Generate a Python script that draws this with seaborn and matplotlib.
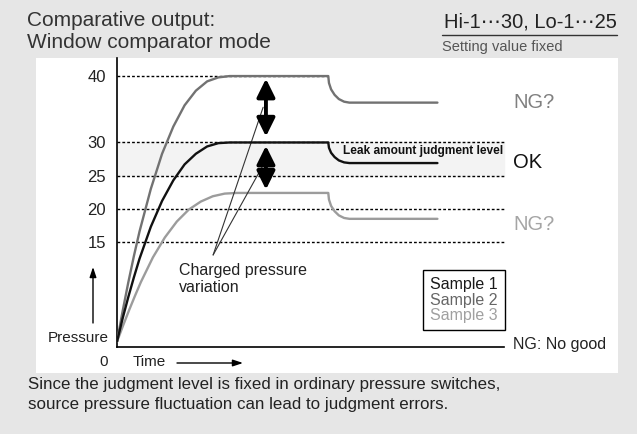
import matplotlib
matplotlib.use("Agg")
import matplotlib.pyplot as plt
import seaborn as sns
from matplotlib.patches import Rectangle
from matplotlib.lines import Line2D

# Window comparator: three samples charged to different pressures
rise_t = [0, 1.6, 3.2, 4.8, 6.4, 9.6, 12.8, 16, 19.2, 22.4, 25.6, 28.8, 32]
rise_t3 = [0, 1.7, 3.4, 5.1, 6.8, 10.2, 13.6, 17, 20.4, 23.8, 27.2, 30.6, 34]
drop_t = [60, 60.2, 60.8, 61.8, 63, 64.5, 66, 91]

s1_rise = [0, 3.5, 6.7, 9.7, 12.5, 17.3, 21.2, 24.3, 26.7, 28.3, 29.4, 29.9, 30]
s1_drop = [30, 29.2, 28.45, 27.8, 27.3, 27.0, 26.9, 26.9]
s2_rise = [0, 4.6, 8.9, 12.9, 16.6, 23.0, 28.3, 32.4, 35.6, 37.8, 39.2, 39.8, 40]
s2_drop = [40, 38.96, 38.0, 37.17, 36.54, 36.14, 36.0, 36.0]
s3_rise = [0, 2.4, 4.7, 6.9, 9.0, 12.7, 15.7, 18.1, 19.9, 21.1, 21.9, 22.3, 22.4]
s3_drop = [22.4, 21.4, 20.45, 19.64, 19.02, 18.63, 18.5, 18.5]

samples = ["Sample 1", "Sample 2", "Sample 3"]
line_colors = ["#111111", "#727272", "#9c9c9c"]
text_colors = ["#1a1a1a", "#666666", "#a0a0a0"]

levels = [30, 25, 20, 15]
top_level = 40
yticks = [15, 20, 25, 30, 40]
hi, lo = 30, 25
arrow_t = 42.3

W, H = 637, 434


def px(x, y):
    return (x / W, 1 - y / H)


sns.set_style("white")
plt.rcParams["font.family"] = ["Liberation Sans", "DejaVu Sans"]

fig = plt.figure(figsize=(W / 100, H / 100), dpi=100, facecolor="#e6e6e6")
fig.add_artist(Rectangle(px(36, 373), 582 / W, 315 / H, transform=fig.transFigure,
                         facecolor="white", edgecolor="none", zorder=0))

ax = fig.add_axes([117 / W, (H - 347) / H, 500 / W, 289 / H])
ax.set_facecolor("none")

# curves
sns.lineplot(x=rise_t + drop_t, y=s1_rise + s1_drop, color=line_colors[0], lw=1.7,
             sort=False, estimator=None, label=samples[0], ax=ax, zorder=4)
sns.lineplot(x=rise_t + drop_t, y=s2_rise + s2_drop, color=line_colors[1], lw=1.7,
             sort=False, estimator=None, label=samples[1], ax=ax, zorder=3)
sns.lineplot(x=rise_t3 + drop_t, y=s3_rise + s3_drop, color=line_colors[2], lw=1.7,
             sort=False, estimator=None, label=samples[2], ax=ax, zorder=3)

# judgment band and dotted levels
ax.axhspan(lo, hi, xmin=0, xmax=110 / 142, color="#f3f3f3", zorder=0)
ax.hlines(levels, 0, 110, colors="black", linestyles=(0, (2, 1.5)), lw=1, zorder=1)
ax.hlines(top_level, 0, 60, colors="black", linestyles=(0, (2, 1.5)), lw=1, zorder=1)

# variation arrows
arr = dict(arrowstyle="<|-|>,head_length=0.85,head_width=0.42", lw=2.8, color="black",
           shrinkA=0, shrinkB=0, mutation_scale=13)
ax.annotate("", xy=(arrow_t, 39.6), xytext=(arrow_t, 30.9), arrowprops=arr, zorder=6)
ax.annotate("", xy=(arrow_t, 29.5), xytext=(arrow_t, 22.9), arrowprops=arr, zorder=6)

# leader lines for the note
lead = dict(arrowstyle="-", lw=0.8, color="#333333", shrinkA=0, shrinkB=0)
ax.annotate("", xy=(41.5, 35.3), xytext=(27.3, 13.06), arrowprops=lead)
ax.annotate("", xy=(41.2, 26.3), xytext=(27.3, 13.06), arrowprops=lead)

ax.set_xlim(0, 142)
ax.set_ylim(-0.8, 42.72)
ax.set_xticks([])
ax.set_yticks(yticks)
ax.tick_params(axis="y", length=0, pad=8, labelsize=12, labelcolor="#222222")
for side in ["top", "right"]:
    ax.spines[side].set_visible(False)
for side in ["left", "bottom"]:
    ax.spines[side].set_color("black")
    ax.spines[side].set_linewidth(1.2)
ax.spines["bottom"].set_bounds(0, 110)

leg = ax.legend(handles=ax.lines[:3], labels=samples, handlelength=0, handletextpad=0,
                frameon=True, fancybox=False, edgecolor="black", loc="upper left",
                bbox_to_anchor=px(423, 270), bbox_transform=fig.transFigure,
                borderaxespad=0, borderpad=0.45, labelspacing=0.02, fontsize=11.5)
leg.get_frame().set_linewidth(1.0)
leg.get_frame().set_alpha(1)
for txt, c in zip(leg.get_texts(), text_colors):
    txt.set_color(c)
for h in leg.legend_handles:
    h.set_visible(False)

# texts
fig.text(*px(27, 20), "Comparative output:", fontsize=15, color="#333333", va="center")
fig.text(*px(27, 43), "Window comparator mode", fontsize=15, color="#333333", va="center")
fig.text(*px(617, 22), "Hi-1\u22ef30, Lo-1\u22ef25", fontsize=14.5, color="#222222",
         va="center", ha="right")
fig.add_artist(Line2D([442 / W, 617 / W], [1 - 35 / H, 1 - 35 / H], color="#333333", lw=1))
fig.text(*px(442, 47), "Setting value fixed", fontsize=10.5, color="#555555", va="center")

fig.text(*px(28, 385), "Since the judgment level is fixed in ordinary pressure switches,",
         fontsize=12.2, color="#222222", va="center")
fig.text(*px(28, 404), "source pressure fluctuation can lead to judgment errors.",
         fontsize=12.2, color="#222222", va="center")

fig.text(*px(179, 270), "Charged pressure", fontsize=11.5, color="#222222", va="center")
fig.text(*px(179, 288), "variation", fontsize=11.5, color="#222222", va="center")

fig.text(*px(343, 151), "Leak amount judgment level", fontsize=8.6, fontweight="bold",
         fontstretch="condensed", color="#111111", va="center")

fig.text(*px(513, 103), "NG?", fontsize=14.5, color="#808080", va="center")
fig.text(*px(513, 163), "OK", fontsize=14.5, color="#111111", va="center")
fig.text(*px(513, 225), "NG?", fontsize=14.5, color="#a5a5a5", va="center")
fig.text(*px(513, 344), "NG: No good", fontsize=11.5, color="#222222", va="center")

fig.text(*px(109, 338), "Pressure", fontsize=11, color="#222222", va="center", ha="right")
fig.text(*px(104, 362), "0", fontsize=11, color="#222222", va="center", ha="center")
fig.text(*px(133, 362), "Time", fontsize=11, color="#222222", va="center")

small = dict(arrowstyle="-|>,head_length=0.6,head_width=0.2", lw=1, color="black",
             shrinkA=0, shrinkB=0, mutation_scale=10)
ax.annotate("", xy=px(243, 363), xycoords="figure fraction", xytext=px(177, 363),
            textcoords="figure fraction", arrowprops=small, annotation_clip=False)
ax.annotate("", xy=px(93, 267), xycoords="figure fraction", xytext=px(93, 323),
            textcoords="figure fraction", arrowprops=small, annotation_clip=False)

fig.savefig("out.png", dpi=100, facecolor=fig.get_facecolor())
